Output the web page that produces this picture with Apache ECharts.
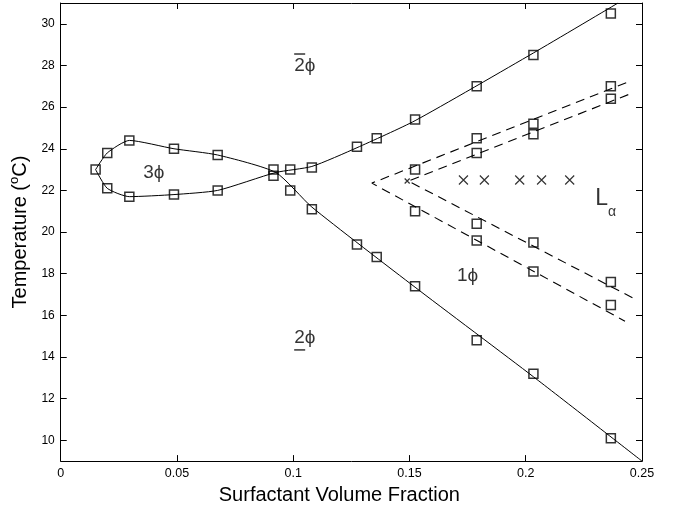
<!DOCTYPE html>
<html>
<head>
<meta charset="utf-8">
<script src="https://cdn.jsdelivr.net/npm/echarts@6/dist/echarts.min.js"></script>
<style>
html,body{margin:0;padding:0;background:#fff;}
#main{width:680px;height:510px;}
</style>
</head>
<body>
<div id="main"></div>
<script>
// tick labels
var xTicks = [0, 0.05, 0.1, 0.15, 0.2, 0.25];
var yTicks = [10, 12, 14, 16, 18, 20, 22, 24, 26, 28, 30];

// fitted boundary curves
// loop top branch -> crosses over -> falls to the right
var boundaryA = [[0.015,23.0],[0.020,23.8],[0.0295,24.4],[0.0487,24.0],[0.0675,23.7],[0.0925,22.86],
  [0.108,21.2],[0.1524,17.35],[0.2033,13.05],[0.25,9.0]];
// loop bottom branch -> crosses over -> rises to the right
var boundaryB = [[0.015,23.0],[0.020,22.1],[0.0295,21.7],[0.0487,21.8],[0.0675,22.0],[0.0925,22.86],
  [0.108,23.15],[0.1274,24.05],[0.1524,25.35],[0.2033,28.6],[0.2397,31.0]];

// measured points (open squares)
var squares = [[0.015,23.0],[0.020,23.8],[0.0295,24.4],[0.0487,24.0],[0.0675,23.7],[0.0915,23.0],[0.0915,22.7],
  [0.020,22.1],[0.0295,21.7],[0.0487,21.8],[0.0675,22.0],
  [0.0987,23.0],[0.108,23.1],[0.0987,22.0],[0.108,21.1],
  [0.1274,24.1],[0.1359,24.5],[0.1524,25.4],[0.1789,27.0],[0.2033,28.5],[0.2366,30.5],
  [0.1274,19.4],[0.1359,18.8],[0.1524,17.4],[0.1789,14.8],[0.2033,13.2],[0.2366,10.1],
  [0.1524,23.0],[0.1789,24.5],[0.1789,23.8],[0.2033,25.2],[0.2033,24.7],[0.2366,27.0],[0.2366,26.4],
  [0.1524,21.0],[0.1789,20.4],[0.1789,19.6],[0.2033,19.5],[0.2033,18.1],[0.2366,17.6],[0.2366,16.5]];

// dashed L-alpha boundaries
var dashOuter = [[0.2432,27.17],[0.1338,22.35],[0.2427,15.72]];
var dashInner = [[0.2441,26.6],[0.1495,22.45],[0.2463,16.82]];

// crosses
var crosses = [[0.1732,22.5],[0.1822,22.5],[0.1974,22.5],[0.2068,22.5],[0.2189,22.5]];
var smallCross = [[0.149,22.45]];

// phase labels
var labelOver2 = [[0.1004,28.07]];
var label3 = [[0.040,22.85]];
var labelUnder2 = [[0.1004,14.82]];
var label1 = [[0.175,17.92]];
var labelL = [[0.2299,21.6]];

var FONT = 'Liberation Sans';
var PHI = '\u03d5';
var crossPath = 'path://M0,0L10,10M10,0L0,10';

function textSeries(data, fmt, align, rich){
	return {
		type: 'scatter', data: data, symbolSize: 0, silent: true, z: 5,
		label: {show: true, position: 'inside', align: align, verticalAlign: 'middle',
			formatter: fmt, color: '#000', fontFamily: FONT, fontSize: 19, rich: rich}
	};
}

var tickStyle = {show: true, inside: true, length: 6, lineStyle: {color: '#000', width: 1}};
var lineAx = {show: true, onZero: false, lineStyle: {color: '#000', width: 1}};
var barStyle = {width: 11, height: 1.5, backgroundColor: '#000', lineHeight: 4};
var phiStyle = {fontFamily: FONT, fontSize: 19, color: '#000', lineHeight: 20};

var option = {
	backgroundColor: '#fff',
	animation: false,
	grid: {left: 57, right: 38, top: 3, bottom: 45},
	xAxis: [{
		type: 'value', min: 0, max: 0.25, interval: 0.05,
		axisLine: lineAx, axisTick: tickStyle, splitLine: {show: false},
		axisLabel: {color: '#000', fontFamily: FONT, fontSize: 12.5, margin: 6},
		name: 'Surfactant Volume Fraction', nameLocation: 'middle', nameGap: 19,
		nameTextStyle: {color: '#000', fontFamily: FONT, fontSize: 20, padding: [0, 24, 0, 0]}
	},{
		type: 'value', position: 'top', min: 0, max: 0.25, interval: 0.05,
		axisLine: lineAx, axisTick: tickStyle, axisLabel: {show: false}, splitLine: {show: false}
	}],
	yAxis: [{
		type: 'value', min: 9, max: 31,
		axisLine: lineAx,
		axisTick: {show: true, inside: true, length: 6, customValues: yTicks, lineStyle: {color: '#000', width: 1}},
		splitLine: {show: false},
		axisLabel: {color: '#000', fontFamily: FONT, fontSize: 12, margin: 6, customValues: yTicks},
		name: 'Temperature ({sup|o}C)', nameLocation: 'middle', nameGap: 22,
		nameTextStyle: {color: '#000', fontFamily: FONT, fontSize: 20,
			rich: {sup: {fontFamily: FONT, fontSize: 13, color: '#000', padding: [0, 0, 12, 0]}}}
	},{
		type: 'value', position: 'right', min: 9, max: 31,
		axisLine: lineAx,
		axisTick: {show: true, inside: true, length: 6, customValues: yTicks, lineStyle: {color: '#000', width: 1}},
		axisLabel: {show: false}, splitLine: {show: false}
	}],
	series: [
		{type: 'line', data: boundaryA, showSymbol: false, smooth: 0.2, clip: true,
			lineStyle: {color: '#000', width: 1}},
		{type: 'line', data: boundaryB, showSymbol: false, smooth: 0.2, clip: true,
			lineStyle: {color: '#000', width: 1}},
		{type: 'line', data: dashOuter, showSymbol: false, lineStyle: {color: '#000', width: 1.1, type: [9, 6]}},
		{type: 'line', data: dashInner, showSymbol: false, lineStyle: {color: '#000', width: 1.1, type: [9, 6]}},
		{type: 'scatter', data: squares, symbol: 'rect', symbolSize: 9,
			itemStyle: {color: 'transparent', borderColor: '#000', borderWidth: 1.5}, z: 4},
		{type: 'scatter', data: crosses, symbol: crossPath, symbolSize: 9,
			itemStyle: {color: 'transparent', borderColor: '#000', borderWidth: 1.2}},
		{type: 'scatter', data: smallCross, symbol: crossPath, symbolSize: 5,
			itemStyle: {color: 'transparent', borderColor: '#000', borderWidth: 1.2}},
		textSeries(labelOver2, '{bar| }\n{t|2' + PHI + '}', 'left', {bar: barStyle, t: phiStyle}),
		textSeries(label3, '3' + PHI, 'center'),
		textSeries(labelUnder2, '{t|2' + PHI + '}\n{bar| }', 'left', {bar: barStyle, t: phiStyle}),
		textSeries(label1, '1' + PHI, 'center'),
		textSeries(labelL, '{L|L}{a|\u03b1}', 'left', {
			L: {fontFamily: FONT, fontSize: 23, color: '#000'},
			a: {fontFamily: FONT, fontSize: 14, color: '#000', padding: [26, 0, 0, 0]}})
	]
};

var myChart = echarts.init(document.getElementById('main'));
myChart.setOption(option);
</script>
</body>
</html>
